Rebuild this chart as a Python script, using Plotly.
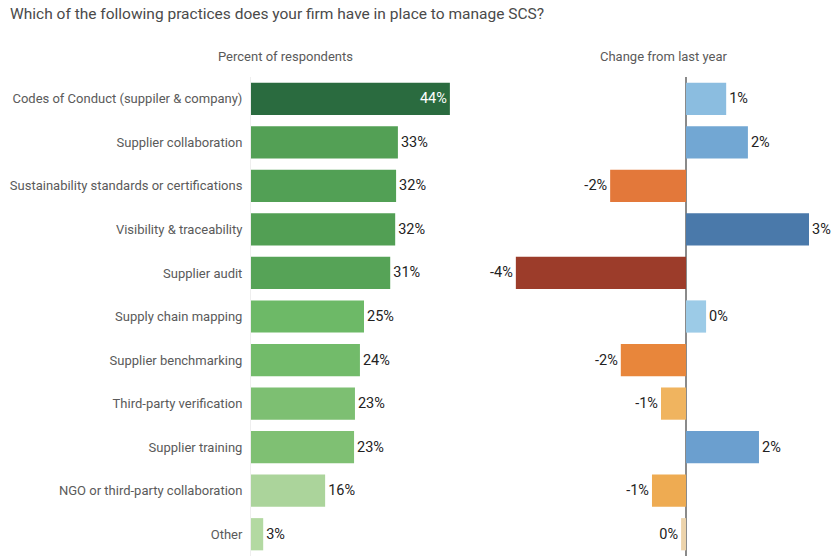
import plotly.graph_objects as go

categories = [
    "Codes of Conduct (suppiler & company)",
    "Supplier collaboration",
    "Sustainability standards or certifications",
    "Visibility & traceability",
    "Supplier audit",
    "Supply chain mapping",
    "Supplier benchmarking",
    "Third-party verification",
    "Supplier training",
    "NGO or third-party collaboration",
    "Other",
]
percent_values = [44, 32.5, 32.1, 31.9, 30.8, 25.0, 24.1, 23.0, 22.8, 16.4, 2.7]
percent_labels = ["44%", "33%", "32%", "32%", "31%", "25%", "24%", "23%", "23%", "16%", "3%"]
percent_colors = ["#2a6b3f", "#53a055", "#52a055", "#529f54", "#56a357", "#6db967",
                  "#72bb6a", "#7dbf72", "#7fc073", "#abd49b", "#b3d9a2"]

change_values = [0.98, 1.51, -1.85, 3.0, -4.15, 0.49, -1.59, -0.61, 1.78, -0.83, -0.12]
change_labels = ["1%", "2%", "-2%", "3%", "-4%", "0%", "-2%", "-1%", "2%", "-1%", "0%"]
change_colors = ["#8bbde0", "#72a7d3", "#e3783a", "#4a79aa", "#9c3c2a", "#9ccbe7",
                 "#e8863b", "#f0b45f", "#6b9fcf", "#eeab52", "#ecd3ab"]

FONT = "Roboto"
W, H = 839, 556

fig = go.Figure()

fig.add_trace(go.Bar(
    y=categories, x=percent_values, orientation="h",
    marker=dict(color=percent_colors, line=dict(width=0)),
    text=percent_labels,
    textposition=["inside"] + ["outside"] * 10,
    insidetextanchor="end",
    textfont=dict(family=FONT, size=14.5, color=["#ffffff"] + ["#222222"] * 10),
    cliponaxis=False,
    xaxis="x", yaxis="y",
    hoverinfo="skip",
))

fig.add_trace(go.Bar(
    y=categories, x=change_values, orientation="h",
    marker=dict(color=change_colors, line=dict(width=0)),
    text=change_labels,
    textposition="outside",
    textfont=dict(family=FONT, size=14.5, color="#222222"),
    cliponaxis=False,
    xaxis="x2", yaxis="y2",
    hoverinfo="skip",
))

# pixel geometry
left_x0, left_x1 = 251, 470
right_x0, right_x1 = 505, 835
px_per_pct = 4.52
px_per_chg = 41.0
zero_right = 686

fig.update_layout(
    width=W, height=H,
    margin=dict(l=0, r=0, t=77, b=0),
    paper_bgcolor="white", plot_bgcolor="white",
    showlegend=False,
    bargap=0.26,
    uniformtext=dict(mode=False),
    font=dict(family=FONT, size=13, color="#5a5a5a"),
    xaxis=dict(
        domain=[left_x0 / W, left_x1 / W],
        range=[0, (left_x1 - left_x0) / px_per_pct],
        showgrid=False, showticklabels=False, zeroline=False, showline=False,
    ),
    yaxis=dict(
        autorange="reversed",
        showgrid=False, zeroline=False, showline=True, linecolor="#eeeeee", linewidth=1,
        ticks="", ticklabelstandoff=5,
        tickfont=dict(family=FONT, size=13, color="#5a5a5a"),
    ),
    xaxis2=dict(
        domain=[right_x0 / W, right_x1 / W],
        range=[(right_x0 - zero_right) / px_per_chg, (right_x1 - zero_right) / px_per_chg],
        showgrid=False, showticklabels=False,
        zeroline=True, zerolinecolor="#8a8a8a", zerolinewidth=1.5, showline=False,
    ),
    yaxis2=dict(
        anchor="x2", matches="y",
        showgrid=False, zeroline=False, showline=False, showticklabels=False, ticks="",
    ),
    annotations=[
        dict(text="Which of the following practices does your firm have in place to manage SCS?",
             xref="paper", yref="paper", x=8 / W, y=1 + 63 / 479, xanchor="left", yanchor="middle",
             showarrow=False, font=dict(family=FONT, size=15.5, color="#4a4a4a")),
        dict(text="Percent of respondents",
             xref="paper", yref="paper", x=285 / W, y=1 + 20 / 479, xanchor="center", yanchor="middle",
             showarrow=False, font=dict(family=FONT, size=13, color="#5a5a5a")),
        dict(text="Change from last year",
             xref="paper", yref="paper", x=664 / W, y=1 + 20 / 479, xanchor="center", yanchor="middle",
             showarrow=False, font=dict(family=FONT, size=13, color="#5a5a5a")),
    ],
)

fig.write_html("out.html")
